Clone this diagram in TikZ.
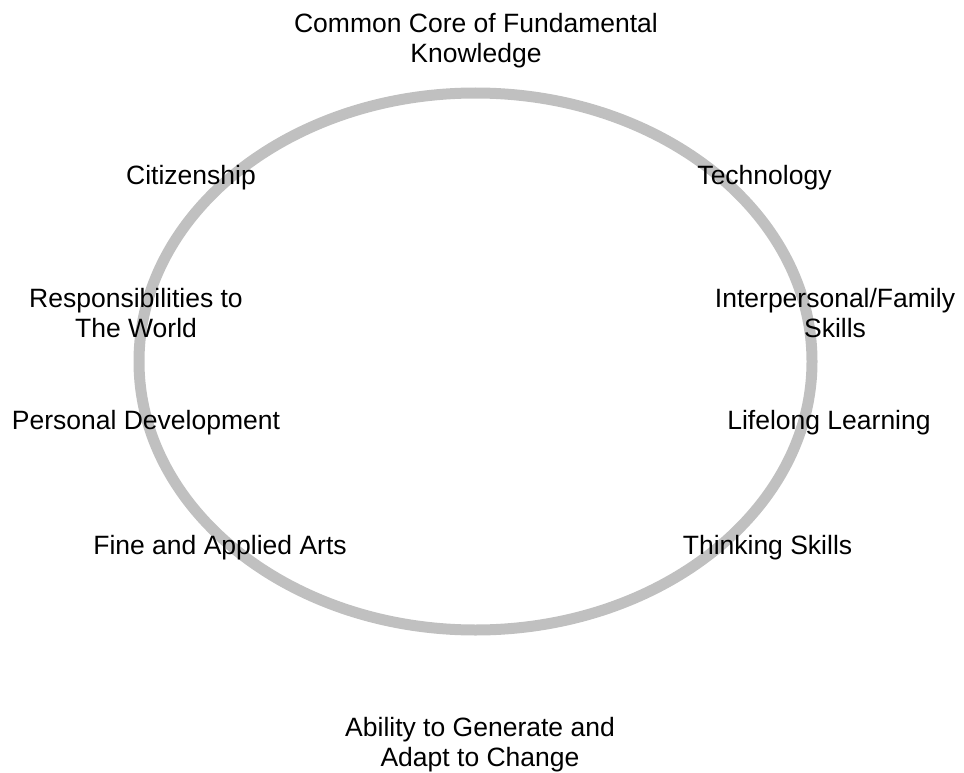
\documentclass[tikz,border=0pt]{standalone}
\usepackage{fontspec}
\setmainfont{Liberation Sans}
\definecolor{ringgray}{RGB}{192,192,192}
\begin{document}
\begin{tikzpicture}[x=1pt,y=-1pt,
  lbl/.style={anchor=base,inner sep=0pt,align=center,font=\fontsize{26.5}{30}\selectfont},
  ring/.style={draw=ringgray,line width=11pt}]
\useasboundingbox (0,0) rectangle (964,773);
\draw[ring] (475.5,361.5) ellipse [x radius=336.5, y radius=268.5];
\node[lbl] (common) at (476,63) {Common Core of Fundamental\\Knowledge};
\node[lbl] (citizen) at (191,185) {Citizenship};
\node[lbl] (tech) at (764.5,185) {Technology};
\node[lbl] (resp) at (136,337) {Responsibilities to\\The World};
\node[lbl] (inter) at (835,337) {Interpersonal/Family\\Skills};
\node[lbl] (pers) at (146,429) {Personal Development};
\node[lbl] (life) at (829,429) {Lifelong Learning};
\node[lbl] (fine) at (220,554) {Fine and Applied Arts};
\node[lbl] (think) at (767.5,554) {Thinking Skills};
\node[lbl] (ability) at (480,766) {Ability to Generate and\\Adapt to Change};
\end{tikzpicture}
\end{document}
